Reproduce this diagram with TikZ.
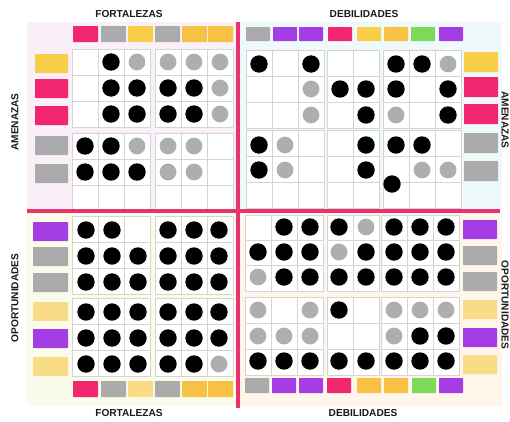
\documentclass[tikz,border=0pt]{standalone}
\usepackage{fontspec}
\setmainfont{Liberation Sans}

\definecolor{rosa}{HTML}{F0266F}
\definecolor{gris}{HTML}{ABABAB}
\definecolor{amarillo}{HTML}{F9CF4A}
\definecolor{naranja}{HTML}{F6C144}
\definecolor{amarilloclaro}{HTML}{F9DD86}
\definecolor{morado}{HTML}{A53DE4}
\definecolor{verde}{HTML}{7ED957}
\definecolor{puntogris}{HTML}{AEAEAE}
\definecolor{fondoA}{HTML}{FAF0FA}
\definecolor{fondoB}{HTML}{EEF9FB}
\definecolor{fondoC}{HTML}{FBFBEC}
\definecolor{fondoD}{HTML}{FEF6EA}
\definecolor{eje}{HTML}{E8336E}

\begin{document}
\begin{tikzpicture}[
    x=0.025cm,
    y=-0.025cm,
    line cap=round,
    line join=round,
    titulo/.style={font=\fontsize{7.2}{8}\selectfont\bfseries, text=black!90},
    celda/.style={draw=black!17, fill=white, line width=0.4pt},
    nota/.style={rounded corners=0.4pt},
    negro/.style={fill=black},
    claro/.style={fill=puntogris},
    ejerosa/.style={draw=eje, line width=2.2pt, line cap=butt}
]

\useasboundingbox (0,0) rectangle (510,421);
\clip (0,0) rectangle (510,421);

% -------------------------------------------------
% Fondos de los cuadrantes
% -------------------------------------------------

\fill[fondoA] (27,22)  rectangle (238,211);
\fill[fondoB] (238,22) rectangle (502,211);
\fill[fondoC] (27,211) rectangle (238,406);
\fill[fondoD] (238,211) rectangle (502,406);

% -------------------------------------------------
% Celdas
% -------------------------------------------------

\foreach \x in {72,98,124,155,181,207}
  \foreach \y in {49,75,101,133,159,185}
    \draw[celda] (\x,\y) rectangle ++(26,26);

\foreach \x in {246,272,298,327,353,383,409,435}
  \foreach \y in {50,76,102,130,156,182}
    \draw[celda] (\x,\y) rectangle ++(26,26);

\foreach \x in {72,98,124,155,181,207}
  \foreach \y in {216,242,268,298,324,350}
    \draw[celda] (\x,\y) rectangle ++(26,26);

\foreach \x in {245,271,297,327,353,381,407,433}
  \foreach \y in {215,240,265,297,323,349}
    \draw[celda] (\x,\y) rectangle ++(26,26);

% -------------------------------------------------
% Ejes rosas
% -------------------------------------------------

\draw[ejerosa] (238,22) -- (238,408);
\draw[ejerosa] (27,211) -- (500,211);

% -------------------------------------------------
% Notas: encabezados de columnas
% -------------------------------------------------

\foreach \x/\col in {73/rosa,101/gris,128/amarillo,155/gris,182/naranja,208/naranja}
  \fill[nota,\col] (\x,26) rectangle ++(25,16);
\foreach \x/\col in {246/gris,273/morado,299/morado,328/rosa,357/amarillo,384/naranja,411/verde,439/morado}
  \fill[nota,\col] (\x,27) rectangle ++(24,14);
\foreach \x/\col in {73/rosa,101/gris,128/amarilloclaro,155/gris,182/naranja,208/naranja}
  \fill[nota,\col] (\x,381) rectangle ++(25,16);
\foreach \x/\col in {245/gris,272/morado,299/morado,327/rosa,357/naranja,384/naranja,412/verde,439/morado}
  \fill[nota,\col] (\x,378) rectangle ++(24,15);

% -------------------------------------------------
% Notas: encabezados de filas
% -------------------------------------------------

\foreach \y/\col in {54/amarillo,79/rosa,106/rosa,136/gris,164/gris}
  \fill[nota,\col] (35,\y) rectangle ++(33,19);
\foreach \y/\col in {52/amarillo,77/rosa,104/rosa,133/gris,161/gris}
  \fill[nota,\col] (464,\y) rectangle ++(34,20);
\foreach \y/\col in {222/morado,247/gris,273/gris,302/amarilloclaro,329/morado,357/amarilloclaro}
  \fill[nota,\col] (33,\y) rectangle ++(35,19);
\foreach \y/\col in {220/morado,246/gris,272/gris,300/amarilloclaro,328/morado,355/amarilloclaro}
  \fill[nota,\col] (463,\y) rectangle ++(34,19);

% -------------------------------------------------
% Puntos (1 = negro, 2 = gris)
% -------------------------------------------------

% Fortalezas / Amenazas
\foreach \fila [count=\r] in {
    {0,1,2,2,2,2},
    {0,1,1,1,1,2},
    {0,1,1,1,1,2},
    {1,1,2,2,2,0},
    {1,1,1,2,2,0}}{
  \foreach \v [count=\c] in \fila {
    \pgfmathsetmacro{\px}{{85,111,137,168,194,220}[\c-1]}
    \pgfmathsetmacro{\py}{{62,88,114,146,172}[\r-1]}
    \ifnum\v=1 \fill[negro] (\px,\py) circle (8.7); \fi
    \ifnum\v=2 \fill[claro] (\px,\py) circle (8.4); \fi
  }
}

% Debilidades / Amenazas
\foreach \fila [count=\r] in {
    {1,0,1,0,0,1,1,2},
    {0,0,2,1,1,1,0,1},
    {0,0,2,0,1,2,0,1},
    {1,2,0,0,1,1,1,0},
    {1,2,0,0,1,0,2,2}}{
  \foreach \v [count=\c] in \fila {
    \pgfmathsetmacro{\px}{{259,285,311,340,366,396,422,448}[\c-1]}
    \pgfmathsetmacro{\py}{{64,89,115,145,170}[\r-1]}
    \ifnum\v=1 \fill[negro] (\px,\py) circle (8.7); \fi
    \ifnum\v=2 \fill[claro] (\px,\py) circle (8.4); \fi
  }
}
\fill[negro] (392,184) circle (8.7);

% Fortalezas / Oportunidades
\foreach \fila [count=\r] in {
    {1,1,0,1,1,1},
    {1,1,1,1,1,1},
    {1,1,1,1,1,1},
    {1,1,1,1,1,1},
    {1,1,1,1,1,1},
    {1,1,1,1,1,2}}{
  \foreach \v [count=\c] in \fila {
    \pgfmathsetmacro{\px}{{86,112,138,168,194,219}[\c-1]}
    \pgfmathsetmacro{\py}{{230,256,282,312,338,364}[\r-1]}
    \ifnum\v=1 \fill[negro] (\px,\py) circle (8.7); \fi
    \ifnum\v=2 \fill[claro] (\px,\py) circle (8.4); \fi
  }
}

% Debilidades / Oportunidades
\foreach \fila [count=\r] in {
    {0,1,1,1,2,1,1,1},
    {1,1,1,2,1,1,1,1},
    {2,1,1,1,1,1,1,1},
    {2,0,2,1,0,2,2,2},
    {2,2,2,0,0,2,1,1},
    {1,1,1,1,1,1,1,1}}{
  \foreach \v [count=\c] in \fila {
    \pgfmathsetmacro{\px}{{258,284,310,339,366,394,420,446}[\c-1]}
    \pgfmathsetmacro{\py}{{227,252,277,310,336,361}[\r-1]}
    \ifnum\v=1 \fill[negro] (\px,\py) circle (8.7); \fi
    \ifnum\v=2 \fill[claro] (\px,\py) circle (8.4); \fi
  }
}

% -------------------------------------------------
% Titulos
% -------------------------------------------------

\node[titulo] (fortsup) at (129,14)  {FORTALEZAS};
\node[titulo] (debsup)  at (364,14)  {DEBILIDADES};
\node[titulo] (fortinf) at (129,413) {FORTALEZAS};
\node[titulo] (debinf)  at (363,413) {DEBILIDADES};

\node[titulo, rotate=90]  (amenizq) at (15,122)  {AMENAZAS};
\node[titulo, rotate=90]  (oporizq) at (15,298)  {OPORTUNIDADES};
\node[titulo, rotate=-90, inner sep=1pt] (amender) at (505,120) {AMENAZAS};
\node[titulo, rotate=-90, inner sep=1pt] (opordar) at (505,305) {OPORTUNIDADES};

\end{tikzpicture}
\end{document}
